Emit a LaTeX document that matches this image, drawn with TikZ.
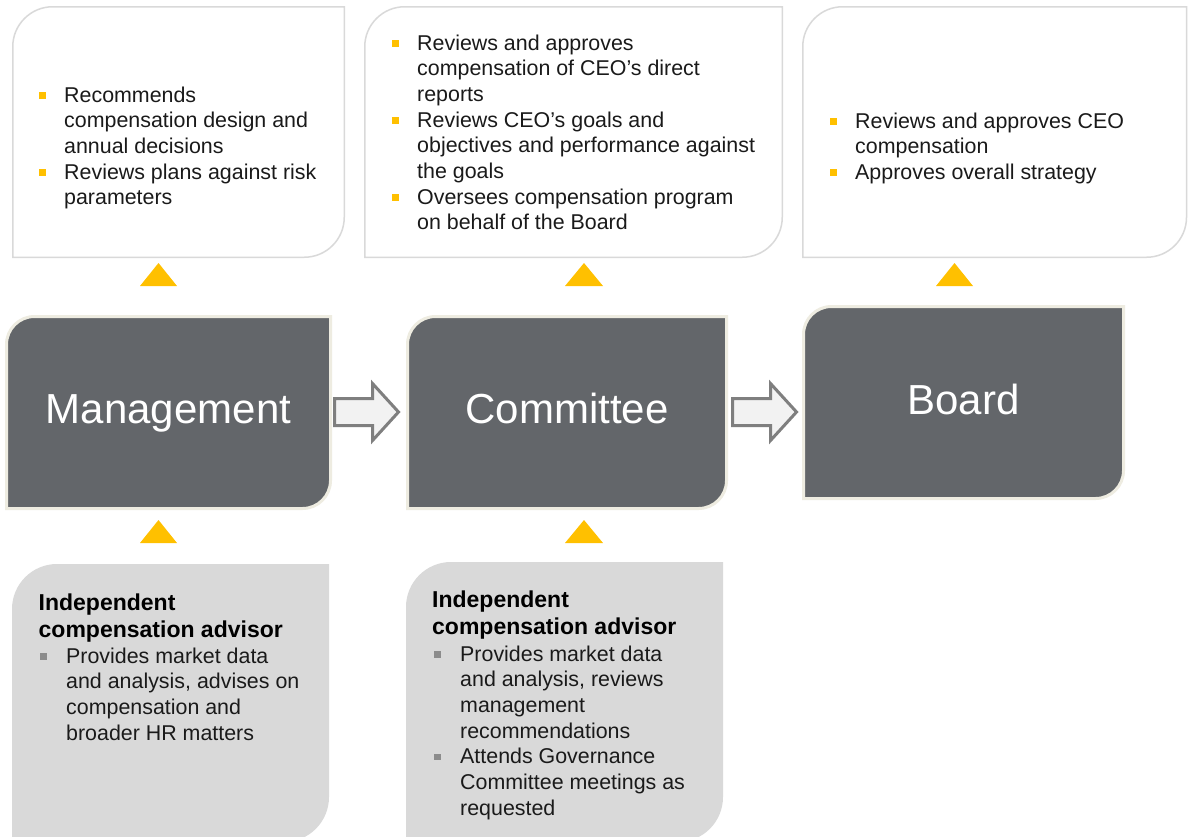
\documentclass[tikz,border=0pt]{standalone}
\usepackage{fontspec}
\setmainfont{Liberation Sans}
\definecolor{darkbox}{HTML}{63666A}
\definecolor{beigeline}{HTML}{EEECE1}
\definecolor{lgray}{HTML}{D9D9D9}
\definecolor{boxline}{HTML}{D9D9D9}
\definecolor{ybul}{HTML}{FFC000}
\definecolor{gbul}{HTML}{8C8C8C}
\definecolor{arrline}{HTML}{7F7F7F}
\definecolor{arrfill}{HTML}{F2F2F2}
\definecolor{txt}{HTML}{1A1A1A}
\newcommand\tlbr[6]{%
  \path[#1] (#2,#3+#6) .. controls (#2,#3+0.448*#6) and (#2+0.448*#6,#3) .. (#2+#6,#3)
    -- (#4,#3) -- (#4,#5-#6) .. controls (#4,#5-0.448*#6) and (#4-0.448*#6,#5) .. (#4-#6,#5)
    -- (#2,#5) -- cycle;}
\newcommand\ybullet{\makebox[25pt][l]{\color{ybul}\rule[3.4pt]{6.6pt}{6.6pt}}}
\newcommand\gbullet{\makebox[26pt][l]{\color{gbul}\rule[3.4pt]{6.6pt}{6.6pt}}}
\tikzset{
  topbox/.style={draw=boxline, line width=1.5pt, fill=white},
  darkshape/.style={draw=beigeline, line width=3pt, fill=darkbox},
  advbox/.style={fill=lgray},
  blockarrow/.style={draw=arrline, fill=arrfill, line width=3pt, line join=miter},
  tri/.style={fill=ybul},
  lst/.style={inner sep=0pt, anchor=base west, text=txt, font=\fontsize{21.4}{25.7}\selectfont},
  ttl/.style={inner sep=0pt, anchor=base west, text=black, font=\fontsize{23}{27.5}\selectfont\bfseries},
  bigname/.style={inner sep=0pt, anchor=base, text=white, font=\fontsize{42}{50}\selectfont}
}
\begin{document}
\begin{tikzpicture}[x=1pt,y=-1pt]
\useasboundingbox (0,0) rectangle (1188,836);
\clip (0,0) rectangle (1188,836);
\fill[white] (0,0) rectangle (1188,836);

% top white boxes
\tlbr{topbox}{12.75}{6.75}{344.25}{257.25}{40}
\tlbr{topbox}{364.75}{6.75}{782.25}{257.25}{40}
\tlbr{topbox}{802.75}{6.75}{1186.5}{257.25}{40}

% yellow triangles (top)
\fill[tri] (140,286) -- (158.5,263) -- (177,286) -- cycle;
\fill[tri] (565,286) -- (584,263) -- (603,286) -- cycle;
\fill[tri] (936,286) -- (954.5,263) -- (973,286) -- cycle;

% dark boxes
\tlbr{darkshape}{6.5}{316.5}{330.5}{508.5}{28}
\tlbr{darkshape}{407.5}{316.5}{726.5}{508.5}{28}
\tlbr{darkshape}{803.5}{306.5}{1123.5}{498.5}{28}

\node[bigname] (mgmt) at (168.5,423) {Management};
\node[bigname] (comm) at (567,423) {Committee};
\node[bigname] (board) at (963.5,414) {Board};

% block arrows
\draw[blockarrow] (334.5,398.5) -- (372.5,398.5) -- (372.5,383.5) -- (398.5,412)
  -- (372.5,440.5) -- (372.5,425.5) -- (334.5,425.5) -- cycle;
\draw[blockarrow] (732.5,398.5) -- (770.5,398.5) -- (770.5,383.5) -- (796.5,412)
  -- (770.5,440.5) -- (770.5,425.5) -- (732.5,425.5) -- cycle;

% yellow triangles (bottom)
\fill[tri] (140,543) -- (158.5,520) -- (177,543) -- cycle;
\fill[tri] (565,543) -- (584,520) -- (603,543) -- cycle;

% bottom gray boxes
\tlbr{advbox}{12}{564}{329}{842}{45}
\tlbr{advbox}{406}{562}{723}{842}{45}

% top texts
\node[lst] (t1) at (39,102) {\begin{tabular}[t]{@{}l@{}l@{}}
\ybullet & Recommends\\
 & compensation design and\\
 & annual decisions\\
\ybullet & Reviews plans against risk\\
 & parameters
\end{tabular}};

\node[lst] (t2) at (392,50) {\begin{tabular}[t]{@{}l@{}l@{}}
\ybullet & Reviews and approves\\
 & compensation of CEO’s direct\\
 & reports\\
\ybullet & Reviews CEO’s goals and\\
 & objectives and performance against\\
 & the goals\\
\ybullet & Oversees compensation program\\
 & on behalf of the Board
\end{tabular}};

\node[lst] (t3) at (830,128) {\begin{tabular}[t]{@{}l@{}l@{}}
\ybullet & Reviews and approves CEO\\
 & compensation\\
\ybullet & Approves overall strategy
\end{tabular}};

% bottom texts
\node[ttl] (a1) at (38.5,610) {\begin{tabular}[t]{@{}l@{}}Independent\\compensation advisor\end{tabular}};
\node[lst] (b1) at (40,663) {\begin{tabular}[t]{@{}l@{}l@{}}
\gbullet & Provides market data\\
 & and analysis, advises on\\
 & compensation and\\
 & broader HR matters
\end{tabular}};

\node[ttl] (a2) at (432,607) {\begin{tabular}[t]{@{}l@{}}Independent\\compensation advisor\end{tabular}};
\node[lst] (b2) at (434,661) {\begin{tabular}[t]{@{}l@{}l@{}}
\gbullet & Provides market data\\
 & and analysis, reviews\\
 & management\\
 & recommendations\\
\gbullet & Attends Governance\\
 & Committee meetings as\\
 & requested
\end{tabular}};
\end{tikzpicture}
\end{document}
